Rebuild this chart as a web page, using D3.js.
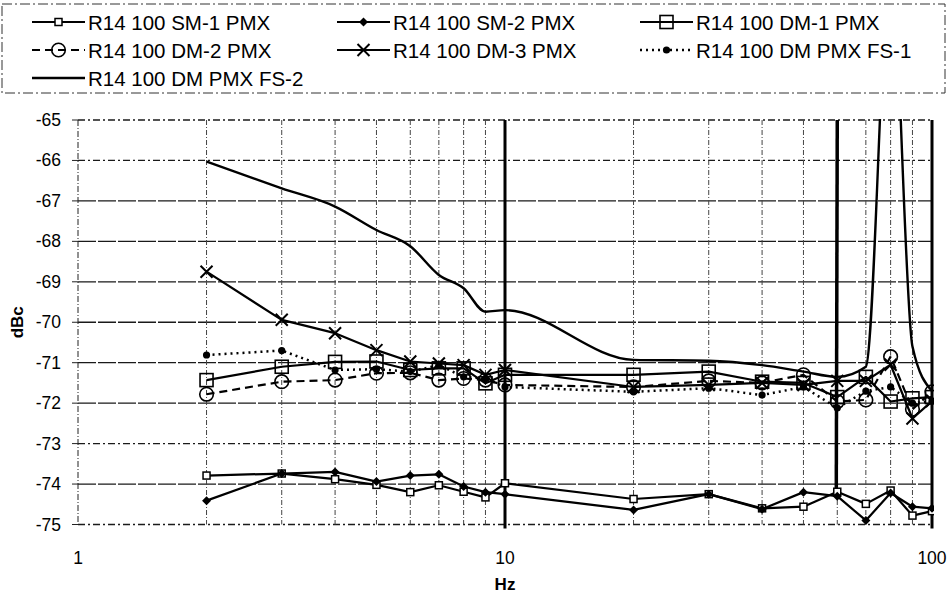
<!DOCTYPE html>
<html><head><meta charset="utf-8">
<script src="https://cdn.jsdelivr.net/npm/d3@7"></script>
<style>
html,body{margin:0;padding:0;background:#fff;}
svg text{font-family:"Liberation Sans",Arial,sans-serif;fill:#000;}
</style></head>
<body>
<svg id="chart" width="952" height="594"></svg>
<script>
// ---- data ----
const freqs = [2,3,4,5,6,7,8,9,10,20,30,40,50,60,70,80,90,100];
const sm1   = [-73.79,-73.74,-73.88,-74.02,-74.2,-74.03,-74.19,-74.33,-73.98,-74.37,-74.25,-74.6,-74.56,-74.19,-74.49,-74.16,-74.78,-74.67];
const sm2   = [-74.41,-73.74,-73.7,-73.94,-73.79,-73.76,-74.06,-74.2,-74.25,-74.64,-74.25,-74.62,-74.2,-74.3,-74.9,-74.22,-74.56,-74.6];
const dm1   = [-71.43,-71.1,-70.98,-70.97,-71.18,-71.14,-71.14,-71.51,-71.3,-71.3,-71.22,-71.47,-71.5,-71.85,-71.35,-71.96,-71.88,-71.85];
const dm2   = [-71.78,-71.47,-71.43,-71.26,-71.25,-71.43,-71.39,-71.43,-71.55,-71.6,-71.45,-71.5,-71.3,-71.96,-71.92,-70.85,-72.15,-71.72];
const dm3   = [-68.75,-69.94,-70.27,-70.69,-70.97,-71.02,-71.06,-71.3,-71.18,-71.6,-71.55,-71.5,-71.55,-71.45,-71.45,-71.05,-72.38,-71.95];
const fs1   = [-70.81,-70.7,-71.18,-71.16,-71.22,-71.06,-71.35,-71.39,-71.6,-71.72,-71.63,-71.8,-71.6,-72.12,-71.7,-71.6,-72.0,-71.95];
const fs2   = [-66.03,-66.69,-67.14,-67.72,-68.12,-68.83,-69.16,-69.74,-69.7,-70.93,-70.95,-71.06,-71.22,-71.35,-71.1,-61,-70.6,-71.7];
const seriesNames = ["R14 100 SM-1 PMX","R14 100 SM-2 PMX","R14 100 DM-1 PMX","R14 100 DM-2 PMX","R14 100 DM-3 PMX","R14 100 DM PMX FS-1","R14 100 DM PMX FS-2"];
const yTickValues = [-65,-66,-67,-68,-69,-70,-71,-72,-73,-74,-75];
const xMajorTicks = [1,10,100];
const xMinorTicks = [2,3,4,5,6,7,8,9,20,30,40,50,60,70,80,90];
// narrow 60 Hz spike drawn as a near-vertical trace
const spikeLines = [{hz:60, top:-65, bottom:-74.2}];

// ---- styles ----
const styles = [
  {marker:"sqSmall", dash:null, width:2.2, curve:d3.curveLinear},
  {marker:"diamond", dash:null, width:2.2, curve:d3.curveLinear},
  {marker:"sqBig",   dash:null, width:2.2, curve:d3.curveLinear},
  {marker:"circle",  dash:"8,5", width:2.2, curve:d3.curveLinear},
  {marker:"x",       dash:null, width:2.2, curve:d3.curveLinear},
  {marker:"dot",     dash:"2,4", width:2.5, curve:d3.curveLinear},
  {marker:null,      dash:null, width:2.4, curve:d3.curveMonotoneX}
];
const allValues = [sm1,sm2,dm1,dm2,dm3,fs1,fs2];

const svg = d3.select("#chart");
const L=78, R=932, T=120, B=524.5;
const x = d3.scaleLog().domain([1,100]).range([L,R]);
const y = d3.scaleLinear().domain([-75,-65]).range([B,T]);

// legend box
svg.append("rect").attr("x",2).attr("y",4).attr("width",943).attr("height",89)
  .attr("fill","none").attr("stroke","#333").attr("stroke-width",1).attr("stroke-dasharray","10,3,2,3");

// gridlines
const g = svg.append("g");
g.selectAll(".hg").data(yTickValues).enter().append("line")
  .attr("x1",L).attr("x2",R).attr("y1",d=>y(d)).attr("y2",d=>y(d))
  .attr("stroke","#1a1a1a").attr("stroke-width",1.3)
  .attr("stroke-dasharray",d=>(d===-65||d===-75||d===-66||d===-73)?"7,3,2,3":"18,2");
g.selectAll(".vg").data(xMinorTicks).enter().append("line")
  .attr("x1",d=>x(d)).attr("x2",d=>x(d)).attr("y1",T).attr("y2",B)
  .attr("stroke","#444").attr("stroke-width",1).attr("stroke-dasharray","5,2,1,2");
// left axis (1 Hz)
g.append("line").attr("x1",x(1)).attr("x2",x(1)).attr("y1",T).attr("y2",B)
  .attr("stroke","#222").attr("stroke-width",1).attr("stroke-dasharray","6,2,1,2");
// major gridlines 10, 100
g.selectAll(".mg").data(xMajorTicks.slice(1)).enter().append("line")
  .attr("x1",d=>x(d)).attr("x2",d=>x(d)).attr("y1",T).attr("y2",B+4)
  .attr("stroke","#000").attr("stroke-width",3);
// y ticks
g.selectAll(".yt").data(yTickValues).enter().append("line")
  .attr("x1",L-6).attr("x2",L).attr("y1",d=>y(d)).attr("y2",d=>y(d))
  .attr("stroke","#222").attr("stroke-width",1);

// axis labels
svg.selectAll(".ylab").data(yTickValues).enter().append("text")
  .attr("x",61).attr("y",d=>y(d)+6).attr("text-anchor","end")
  .attr("font-size",17.5).text(d=>d);
svg.selectAll(".xlab").data(xMajorTicks).enter().append("text")
  .attr("x",d=>x(d)).attr("y",564).attr("text-anchor","middle")
  .attr("font-size",17.5).text(d=>d);
svg.append("text").attr("x",x(10)).attr("y",590).attr("text-anchor","middle")
  .attr("font-size",17).attr("font-weight","bold").text("Hz");
svg.append("text").attr("transform",`translate(23,${y(-70)}) rotate(-90)`)
  .attr("text-anchor","middle").attr("font-size",17).attr("font-weight","bold").text("dBc");

// clip
svg.append("defs").append("clipPath").attr("id","plotclip")
  .append("rect").attr("x",L).attr("y",T-1).attr("width",R-L+2).attr("height",B-T+2);

const plot = svg.append("g").attr("clip-path","url(#plotclip)");

spikeLines.forEach(s=>{
  plot.append("line").attr("x1",x(s.hz)).attr("x2",x(s.hz)-1)
    .attr("y1",y(s.top)).attr("y2",y(s.bottom))
    .attr("stroke","#000").attr("stroke-width",3.5);
});

function drawMarker(sel, type, cx, cy){
  switch(type){
    case "sqSmall":
      sel.append("rect").attr("x",cx-3.5).attr("y",cy-3.5).attr("width",7).attr("height",7)
        .attr("fill","#fff").attr("stroke","#000").attr("stroke-width",1.5); break;
    case "diamond":
      sel.append("path").attr("d",`M${cx},${cy-4.5}L${cx+4.5},${cy}L${cx},${cy+4.5}L${cx-4.5},${cy}Z`)
        .attr("fill","#000"); break;
    case "sqBig":
      sel.append("rect").attr("x",cx-6.5).attr("y",cy-6.5).attr("width",13).attr("height",13)
        .attr("fill","none").attr("stroke","#000").attr("stroke-width",1.6); break;
    case "circle":
      sel.append("circle").attr("cx",cx).attr("cy",cy).attr("r",6.8)
        .attr("fill","none").attr("stroke","#000").attr("stroke-width",1.6); break;
    case "x":
      sel.append("path").attr("d",`M${cx-6},${cy-6}L${cx+6},${cy+6}M${cx-6},${cy+6}L${cx+6},${cy-6}`)
        .attr("stroke","#000").attr("stroke-width",2); break;
    case "dot":
      sel.append("circle").attr("cx",cx).attr("cy",cy).attr("r",3.6).attr("fill","#000"); break;
  }
}

allValues.forEach((vals,i)=>{
  const st = styles[i];
  const pts = freqs.map((f,j)=>[f,vals[j]]);
  const line = d3.line().x(d=>x(d[0])).y(d=>y(d[1])).curve(st.curve);
  const p = plot.append("path").attr("d",line(pts)).attr("fill","none")
    .attr("stroke","#000").attr("stroke-width",st.width).attr("stroke-linejoin","round");
  if(st.dash) p.attr("stroke-dasharray",st.dash);
  if(st.marker){
    const mg = plot.append("g");
    pts.forEach(d=>drawMarker(mg, st.marker, x(d[0]), y(d[1])));
  }
});

// legend
const legCols = [32,337,640];
const legRows = [22,50,78];
const leg = svg.append("g");
seriesNames.forEach((name,i)=>{
  const col = i%3, row = Math.floor(i/3);
  const x0 = legCols[col], yy = legRows[row];
  const st = styles[i];
  const ln = leg.append("line").attr("x1",x0).attr("x2",x0+53).attr("y1",yy).attr("y2",yy)
    .attr("stroke","#000").attr("stroke-width",st.width);
  if(st.dash) ln.attr("stroke-dasharray",st.dash);
  if(st.marker) drawMarker(leg, st.marker, x0+26.5, yy);
  leg.append("text").attr("x",x0+56).attr("y",yy+7.5).attr("font-size",20.5).text(name);
});
</script>
</body></html>
